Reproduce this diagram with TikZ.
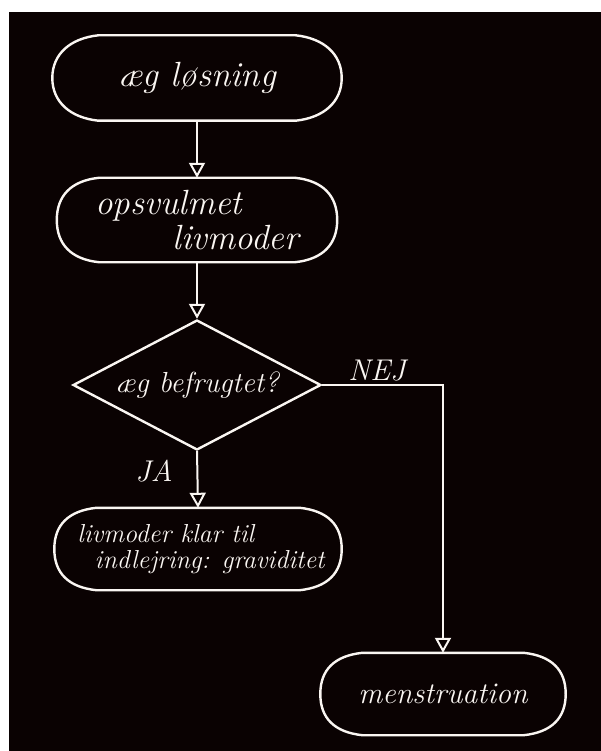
\documentclass[tikz,border=0pt]{standalone}
\usetikzlibrary{shapes.geometric,arrows.meta,calc}
\definecolor{bgdark}{RGB}{10,2,2}
\definecolor{chalk}{RGB}{250,246,242}
\newcommand\handsize[1]{\fontsize{#1}{#1}\selectfont\itshape}
\tikzset{
  outline/.style={draw=chalk, line width=2.4pt, line join=round, line cap=round},
  capsule/.style={rectangle, inner sep=0pt, text=chalk, minimum width=#1},
  flowline/.style={draw=chalk, line width=2pt,
    -{Triangle[open, width=16pt, length=15pt, line width=2pt]}},
  decision/.style={diamond, draw=chalk, line width=2.4pt, inner sep=0pt, text=chalk,
    minimum width=248pt, minimum height=130pt, shape aspect=1.9},
  lbl/.style={text=chalk, inner sep=0pt, font=\handsize{30}}
}
\newcommand\drawcapsule[2]{%
  \draw[outline] ($(#1.north west)+(#2,0)$) -- ($(#1.north east)+(-#2,0)$)
    .. controls ($(#1.north east)+(-#2+28,3)$) and ($(#1.east)+(0,-24)$) .. (#1.east)
    .. controls ($(#1.east)+(0,24)$) and ($(#1.south east)+(-#2+28,-3)$) .. ($(#1.south east)+(-#2,0)$)
    -- ($(#1.south west)+(#2,0)$)
    .. controls ($(#1.south west)+(#2-28,-3)$) and ($(#1.west)+(0,24)$) .. (#1.west)
    .. controls ($(#1.west)+(0,-24)$) and ($(#1.north west)+(#2-28,3)$) .. cycle;}
\begin{document}
\begin{tikzpicture}[x=1pt, y=-1pt]
  \useasboundingbox (0,0) rectangle (601,751);
  \fill[white] (0,0) rectangle (601,751);
  \fill[bgdark] (9,12) rectangle (601,751);

  \node[capsule=289pt, minimum height=85pt, font=\handsize{35}] (b1) at (197,78) {æg løsning};
  \node[capsule=280pt, minimum height=84pt, font=\handsize{35}, align=left] (b2) at (197,220)
    {opsvulmet\\\hspace*{2.2em}livmoder};
  \node[decision, font=\handsize{29}] (d) at (197,385) {æg befrugtet?};
  \node[capsule=287pt, minimum height=82pt, font=\handsize{26}, align=left] (b3) at (198,549)
    {\hspace*{6pt}livmoder klar til\\\hspace*{0.9em}indlejring: graviditet};
  \node[capsule=245pt, minimum height=82pt, font=\handsize{30}] (m) at (443,694) {menstruation};

  \drawcapsule{b1}{46}
  \drawcapsule{b2}{42}
  \drawcapsule{b3}{42}
  \drawcapsule{m}{42}

  \draw[flowline] (b1.south) -- (b2.north);
  \draw[flowline] (b2.south) -- (d.north);
  \draw[flowline] (d.south) -- (b3.north);
  \draw[flowline] (d.east) -| (m.north);

  \node[lbl] (ja) at (154,471) {JA};
  \node[lbl] (nej) at (377,371) {NEJ};
\end{tikzpicture}
\end{document}
